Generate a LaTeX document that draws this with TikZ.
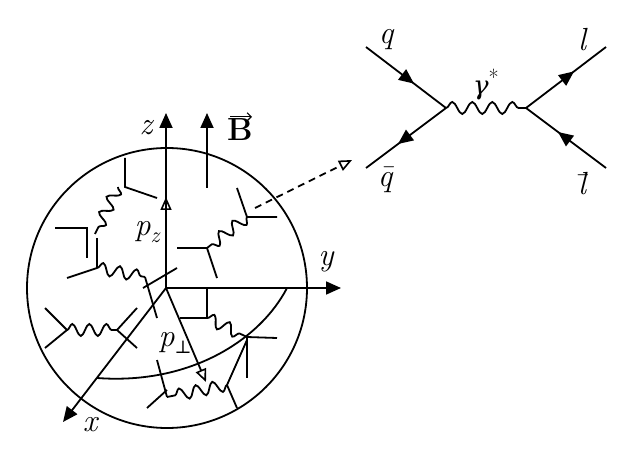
\documentclass[tikz,border=0pt]{standalone}
\usepackage{fontspec}
\newfontfamily\dvf{DejaVu Serif}
\usetikzlibrary{decorations.pathmorphing,decorations.markings,arrows.meta}
\begin{document}
\begin{tikzpicture}[x=1pt,y=-1pt,line width=1.8pt,
  lab/.style={font=\fontsize{32}{36}\selectfont\itshape},
  wv/.style={decorate,decoration={snake,segment length=17pt,amplitude=6pt}},
  fill tip/.style={-{Triangle[length=15pt,width=13pt]}},
  open tip/.style={-{Triangle[open,length=13pt,width=11pt,line width=1.6pt]}},
  midarrow/.style={postaction={decorate},decoration={markings,mark=at position #1 with {\arrow{Triangle[length=15pt,width=13pt]}}}}]
\useasboundingbox (0,0) rectangle (632,457);
% blob
\draw (167,288) circle [radius=140];
\draw (97,378) .. controls (190,385) and (260,340) .. (287,288);
% axes
\coordinate (O) at (166,288);
\coordinate (ztip) at (166,113);
\coordinate (ytip) at (341,288);
\coordinate (xtip) at (63,422);
\draw[fill tip] (O) -- (ztip);
\draw[open tip] (O) -- (166,197);
\draw[fill tip] (O) -- (ytip);
\draw[fill tip] (O) -- (xtip);
\draw[open tip] (O) -- (206,382);
\draw[fill tip] (207,188) -- (207,113);
\node[lab] (zl) at (146,128) {z};
\node[lab,font=\fontsize{32}{36}\selectfont\bfseries] (bl) at (240,130) {B};
\draw[line width=1.2pt,-{Straight Barb[length=4pt]}] ([yshift=-2pt,xshift=-10pt]bl.north) -- ([yshift=-2pt,xshift=12pt]bl.north);
\node[lab] (yl) at (326,262) {y};
\node[lab] (xl) at (90,425) {x};
\node[lab] (pz) at (147,232) {p\raisebox{-7pt}{\fontsize{22}{24}\selectfont z}};
\node[lab] (pp) at (175,343) {p\raisebox{-7pt}{\dvf\upshape\fontsize{18}{20}\selectfont ⊥}};
% inner structures
\draw (125,158) -- (125,187) -- (157,198);
\draw[wv] (118,187) -- (95,234);
\draw (55,228) -- (87,228) -- (87,258);
\draw (97,238) -- (97,268);
\draw (67,278) -- (97,268);
\draw[wv] (97,268) -- (145,277);
\draw (145,277) -- (157,318);
\draw (143,288) -- (177,268);
\draw (45,308) -- (67,330) -- (45,348);
\draw[wv] (67,330) -- (117,330);
\draw (137,308) -- (117,330) -- (137,348);
\draw (237,188) -- (247,217) -- (277,217);
\draw[wv] (247,217) -- (207,248);
\draw (177,248) -- (207,248) -- (217,278);
\draw (207,288) -- (207,318) -- (180,318);
\draw[wv] (207,318) -- (247,337);
\draw (247,337) -- (277,338);
\draw (247,337) -- (247,378);
\draw (247,340) -- (227,385);
\draw[wv] (227,385) -- (167,397);
\draw (227,385) -- (237,408);
\draw (167,397) -- (157,360);
\draw (167,390) -- (147,408);
% dashed
\coordinate (ds) at (255,208);
\coordinate (de) at (352,160);
\draw[dash pattern=on 7pt off 5pt,open tip] (ds) -- (de);
% Feynman
\coordinate (q) at (366,47);
\coordinate (qb) at (366,168);
\coordinate (v1) at (446,108);
\coordinate (v2) at (526,108);
\coordinate (l) at (606,47);
\coordinate (lb) at (606,168);
\draw[midarrow=0.6] (q) -- (v1);
\draw[midarrow=0.6] (v1) -- (qb);
\draw[decorate,decoration={snake,segment length=20pt,amplitude=6pt}] (v1) -- (v2);
\draw[midarrow=0.6] (v2) -- (l);
\draw[midarrow=0.6] (lb) -- (v2);
\node[lab] (ql) at (386,40) {q};
\node[lab] (qbl) at (385,180) {q̄};
\node[lab] (gl) at (486,84) {{\dvf\itshape\fontsize{26}{30}\selectfont γ}\raisebox{9pt}{\upshape\fontsize{22}{24}\selectfont *}};
\node[lab] (ll) at (582,40) {l};
\node[lab] (lbl) at (582,184) {l̄};
\end{tikzpicture}
\end{document}
